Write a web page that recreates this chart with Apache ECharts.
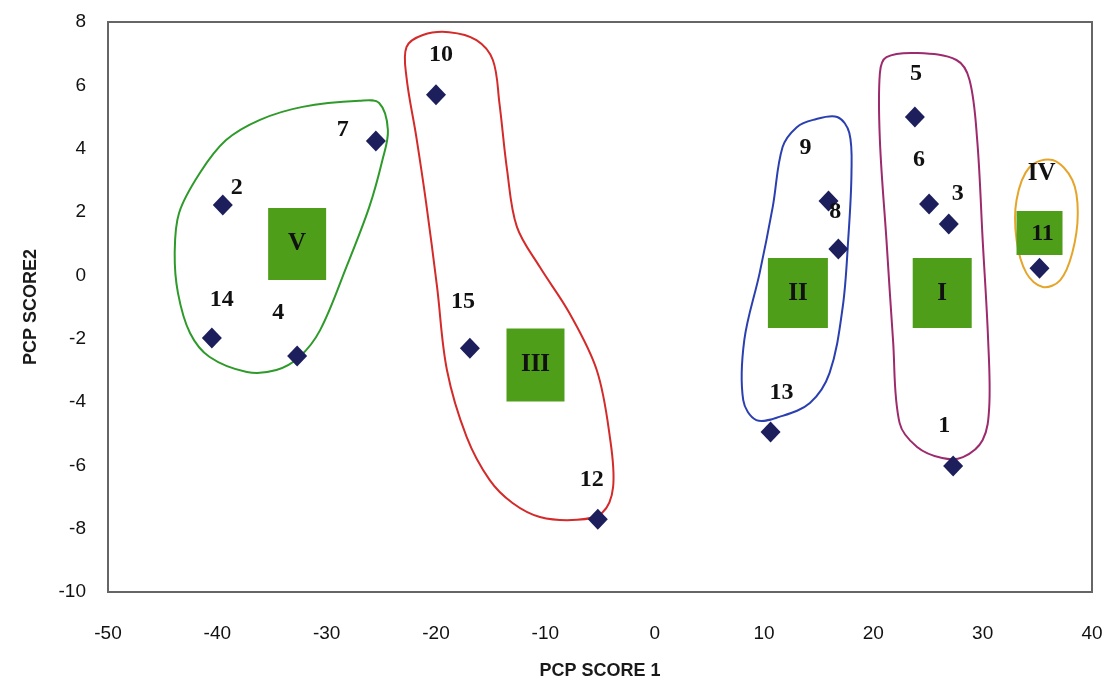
<!DOCTYPE html>
<html>
<head>
<meta charset="utf-8">
<title>PCP scores</title>
<script src="https://cdn.jsdelivr.net/npm/echarts@6/dist/echarts.min.js"></script>
<style>
    html, body { margin: 0; padding: 0; background: #fff; }
    #main { width: 1112px; height: 685px; }
</style>
</head>
<body>
<div id="main"></div>
<script>
    // sample ids and scores
    var pointIds = ['1', '2', '3', '4', '5', '6', '7', '8', '9', '10', '11', '12', '13', '14', '15'];
    var score1 = [27.3, -39.5, 26.9, -32.7, 23.8, 25.1, -25.5, 16.8, 15.9, -20.0, 35.2, -5.2, 10.6, -40.5, -16.9];
    var score2 = [-6.02, 2.22, 1.62, -2.55, 5.0, 2.25, 4.24, 0.83, 2.35, 5.7, 0.22, -7.7, -4.95, -1.98, -2.3];

    // cluster tags (green boxes)
    var groupNames = ['V', 'III', 'II', 'I', ''];
    var groupX = [-32.7, -10.9, 13.1, 26.3, 35.2];
    var groupY = [0.99, -2.83, -0.56, -0.56, 1.34];

    // hand drawn cluster outlines, in score units
    var outlineV = [[-25.2, 5.44], [-27.0, 5.51], [-32.2, 5.32], [-36.1, 4.91], [-39.2, 4.27], [-41.6, 3.23], [-43.5, 1.97], [-43.9, 0.71], [-43.6, -0.56], [-42.5, -1.82], [-40.7, -2.58], [-37.3, -3.05], [-34.6, -2.99], [-32.5, -2.58], [-30.6, -1.73], [-28.2, 0.26], [-26.1, 2.16], [-24.9, 3.64], [-24.4, 4.59]];
    var outlineIII = [[-22.7, 7.21], [-21.2, 7.59], [-18.8, 7.68], [-16.3, 7.43], [-14.8, 6.8], [-14.2, 5.44], [-13.5, 3.33], [-12.6, 1.53], [-10.5, 0.26], [-7.8, -1.19], [-5.3, -2.99], [-4.1, -5.1], [-3.8, -6.68], [-4.8, -7.5], [-7.1, -7.72], [-10.5, -7.63], [-13.0, -7.19], [-15.1, -6.46], [-17.2, -5.1], [-19.0, -2.99], [-19.9, -0.37], [-20.9, 2.28], [-21.8, 4.37], [-22.7, 6.26]];
    var outlineII = [[14.5, 4.91], [16.7, 5.0], [17.8, 4.5], [18.0, 3.23], [17.7, 1.12], [17.2, -1.0], [16.0, -3.08], [14.2, -4.03], [11.4, -4.47], [9.3, -4.57], [8.1, -3.94], [8.2, -2.04], [9.6, 0.07], [10.8, 2.16], [11.7, 4.05], [13.0, 4.68]];
    var outlineI = [[21.2, 6.89], [24.0, 7.02], [27.6, 6.8], [28.8, 6.17], [29.5, 4.27], [30.0, 1.12], [30.5, -2.04], [30.6, -4.16], [30.0, -5.2], [28.2, -5.74], [26.3, -5.77], [24.0, -5.42], [22.4, -4.66], [21.8, -2.04], [21.2, 1.12], [20.6, 4.27], [20.6, 6.39]];
    var outlineIV = [[34.3, 3.42], [36.4, 3.64], [38.2, 3.01], [38.7, 1.97], [38.2, 0.71], [37.1, -0.15], [35.5, -0.37], [34.0, 0.07], [33.1, 1.12], [33.1, 2.38]];

    // label placement (pixels) and box sizes - styling only
    var labelOffsets = [[-9, -40], [14, -17], [9, -30], [-19, -43], [1, -43], [-10, -44], [-33, -11], [-3, -37], [-23, -53], [5, -40], [3, -35], [-6, -39], [11, -39], [10, -38], [-7, -46]];
    var boxSizes = [[58, 72], [58, 73], [60, 70], [59, 70], [46, 44]];

    var serifFont = '"Liberation Serif", "DejaVu Serif", serif';
    var sansFont = '"Liberation Sans", Arial, sans-serif';

    var chart = echarts.init(document.getElementById('main'));

    var points = pointIds.map(function (id, i) {
        return {
            name: id,
            value: [score1[i], score2[i]],
            label: {offset: labelOffsets[i]}
        };
    });

    var boxes = groupNames.map(function (g, i) {
        return {name: g, value: [groupX[i], groupY[i]], symbolSize: boxSizes[i]};
    });

    // closed smooth loop through the outline points
    function outline(data, color) {
        return {
            type: 'custom',
            coordinateSystem: 'cartesian2d',
            silent: true,
            z: 1,
            data: [[data[0][0], data[0][1]]],
            renderItem: function (params, api) {
                var pts = data.map(function (p) {
                    return api.coord(p);
                });
                return {
                    type: 'polygon',
                    shape: {points: pts, smooth: 0.35},
                    style: {fill: null, stroke: color, lineWidth: 2}
                };
            }
        };
    }

    var tagLabel = {
        show: true,
        position: 'inside',
        formatter: '{b}',
        fontFamily: serifFont,
        fontWeight: 'bold',
        fontSize: 25,
        color: '#111'
    };

    var options = {
        animation: false,
        backgroundColor: '#fff',
        grid: {
            left: 108,
            right: 20,
            top: 22,
            bottom: 93,
            show: true,
            borderColor: '#666',
            borderWidth: 2
        },
        xAxis: {
            type: 'value',
            min: -50,
            max: 40,
            interval: 10,
            name: 'PCP SCORE 1',
            nameLocation: 'middle',
            nameGap: 70,
            nameTextStyle: {fontFamily: sansFont, fontWeight: 'bold', fontSize: 18, color: '#1a1a1a'},
            axisLine: {show: false},
            axisTick: {show: false},
            splitLine: {show: false},
            axisLabel: {fontFamily: sansFont, fontSize: 19, color: '#111', margin: 32}
        },
        yAxis: {
            type: 'value',
            min: -10,
            max: 8,
            interval: 2,
            name: 'PCP SCORE2',
            nameLocation: 'middle',
            nameGap: 68,
            nameTextStyle: {fontFamily: sansFont, fontWeight: 'bold', fontSize: 18, color: '#1a1a1a'},
            axisLine: {show: false},
            axisTick: {show: false},
            splitLine: {show: false},
            axisLabel: {fontFamily: sansFont, fontSize: 19, color: '#111', margin: 22}
        },
        series: [
            outline(outlineV, '#2e9a2a'),
            outline(outlineIII, '#d42a2a'),
            outline(outlineII, '#2a3fb0'),
            outline(outlineI, '#9c2a6c'),
            outline(outlineIV, '#e5a52a'),
            {
                type: 'scatter',
                data: boxes,
                symbol: 'rect',
                silent: true,
                z: 2,
                itemStyle: {color: '#4e9e1a', opacity: 1},
                label: tagLabel
            },
            {
                type: 'scatter',
                data: [{name: 'IV', value: [35.4, 3.23]}],
                symbolSize: 0,
                silent: true,
                z: 3,
                itemStyle: {opacity: 1},
                label: tagLabel
            },
            {
                type: 'scatter',
                data: points,
                symbol: 'diamond',
                symbolSize: [20, 21],
                z: 4,
                itemStyle: {color: '#1c1f5c', opacity: 1},
                label: {
                    show: true,
                    position: 'inside',
                    formatter: '{b}',
                    fontFamily: serifFont,
                    fontWeight: 'bold',
                    fontSize: 24,
                    color: '#111'
                }
            }
        ]
    };
    chart.setOption(options, true);
</script>
</body>
</html>
